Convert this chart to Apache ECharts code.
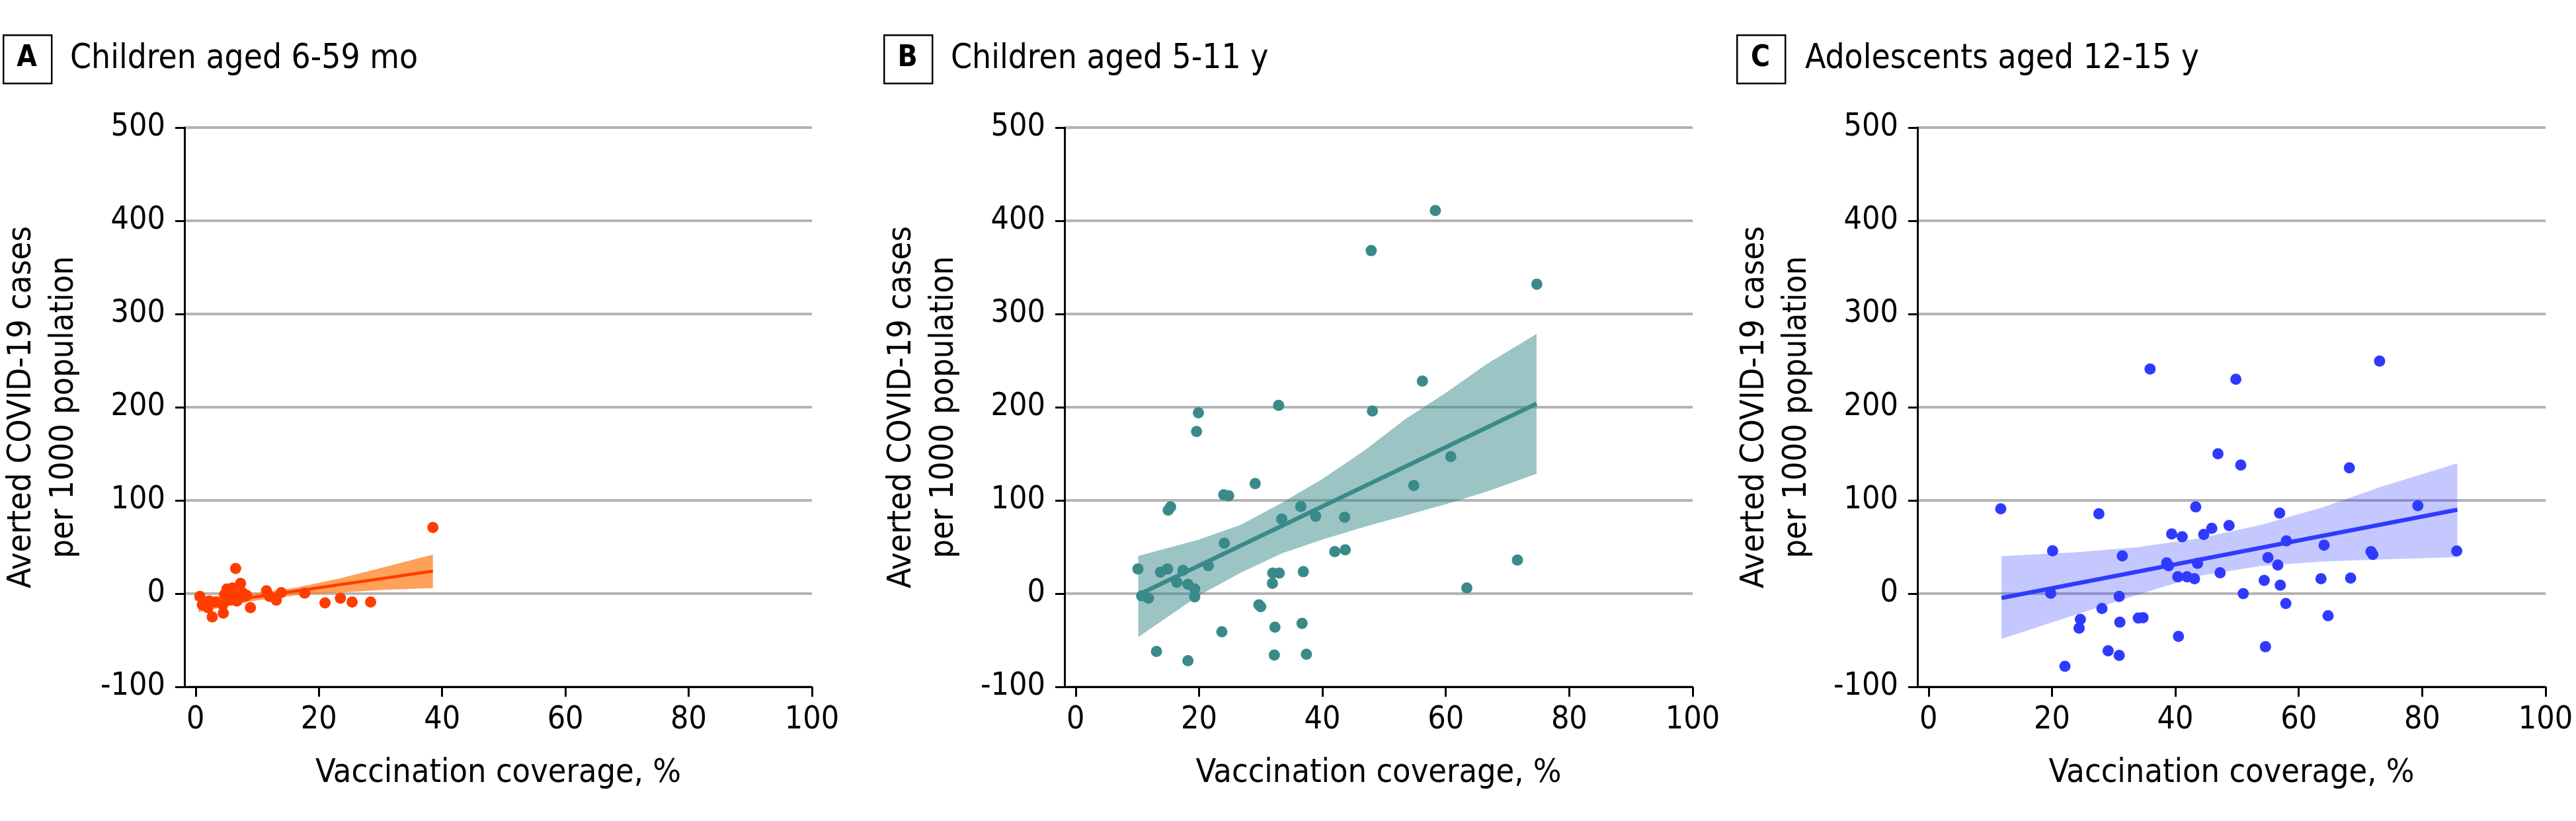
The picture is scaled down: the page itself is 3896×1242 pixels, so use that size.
<!DOCTYPE html>
<html>
<head>
<meta charset="utf-8">
<script src="https://cdn.jsdelivr.net/npm/echarts@6.0.0/dist/echarts.min.js"></script>
<style>
    html, body { margin: 0; padding: 0; background: #fff; }
    #chart { width: 3896px; height: 1242px; }
</style>
</head>
<body>
<div id="chart"></div>
<script>
// panel A - children 6-59 mo
var coverageA = [38.5, 6.5, 7.3, 5.1, 4.7, 6.0, 6.7, 7.9, 7.6, 0.7, 1.1, 2.2, 2.0, 2.7, 4.5, 4.4, 8.9,
    11.5, 12.0, 13.1, 13.9, 17.7, 21.0, 23.5, 25.4, 28.4, 5.3, 6.0, 8.3, 5.6, 3.3];
var avertedA = [71, 27, 11, 5, -1, -2, -8, -3, 1, -3, -12, -8, -15, -25, -21, -12, -15,
    3, -3, -7, 1, 0.5, -10, -5, -9, -9, 2, 6, -2, -7, -9];
var fitXA = [0.5, 38.5];
var fitYA = [-12.4, 24.1];
var bandXA = [0.5, 9.2, 16.3, 23.5, 30.6, 38.5];
var upperA = [-4, 0, 6.4, 16.5, 28.4, 41.8];
var lowerA = [-20, -8, -1.7, 1.2, 4, 5.9];

// panel B - children 5-11 y
var coverageB = [10.1, 10.7, 11.8, 13.1, 13.75, 14.9, 15.0, 15.4, 16.4, 17.4, 18.2, 18.2, 19.3, 19.3,
    19.6, 19.9, 21.5, 23.7, 24.1, 24.0, 24.8, 29.1, 29.7, 30.0, 31.95, 33.0, 31.9, 32.3, 32.2, 32.9,
    33.4, 36.5, 36.9, 36.7, 37.4, 38.9, 47.9, 58.3, 74.75, 56.2, 48.1, 60.8, 54.8, 43.6, 42.0, 43.7,
    71.6, 63.4];
var avertedB = [26.5, -2.5, -5, -62, 23, 26.5, 89.5, 93, 12, 25, 10, -72, 5, -3.5,
    174, 194, 30, -41, 54, 106, 105, 118, -12, -14, 22, 22, 11, -36, -66, 202,
    80, 93.5, 23.5, -32, -65, 83, 368, 411, 332, 228, 196, 147, 116, 82, 45, 47,
    36, 6];
var fitXB = [10.8, 74.7];
var fitYB = [0.8, 203.8];
var bandXB = [10.15, 20, 26.8, 33.4, 40, 46.7, 53.4, 60, 66.7, 74.7];
var upperB = [40.5, 57.9, 74, 97.3, 123, 153, 187, 215.5, 246.7, 278.5];
var lowerB = [-46.7, -2, 22.6, 43, 58, 71.5, 83.7, 96, 109.5, 128.5];

// panel C - adolescents 12-15 y
var coverageC = [11.7, 20.1, 19.8, 27.6, 31.4, 30.9, 28.1, 24.6, 24.4, 31.0, 34.0, 34.75, 29.1, 30.9,
    22.1, 35.9, 40.5, 38.6, 38.9, 40.4, 41.9, 43.1, 43.6, 39.4, 41.1, 43.3, 44.6, 45.9, 46.9, 47.25,
    49.8, 73.1, 50.6, 68.2, 79.3, 56.9, 48.7, 58.0, 64.1, 71.7, 72.0, 85.6, 55.0, 56.6, 54.4, 57.0,
    63.6, 68.4, 51.0, 57.9, 64.75, 54.6];
var avertedC = [91, 46, 0.3, 85.6, 40.5, -3, -16, -27.6, -37, -30.6, -26.3, -25.8, -61.3, -66.3,
    -78, 241, -46, 33, 30, 18, 18, 16, 32.4, 64, 61, 93, 63.5, 70, 150, 22.3,
    230, 249.4, 138, 135, 94.4, 86.3, 73, 56.5, 52, 45, 42, 45.8, 38.7, 30.6, 14.2, 9.1,
    16, 16.7, 0, -10.6, -23.8, -57];
var fitXC = [11.83, 85.7];
var fitYC = [-4.7, 90];
var bandXC = [11.83, 23.9, 33.9, 43.8, 53.8, 63.8, 73.7, 85.7];
var upperC = [40.3, 44.3, 49.8, 59.2, 73.5, 92.4, 115.4, 139.8];
var lowerC = [-48.6, -22.5, -1.2, 19, 29.6, 34.4, 36.7, 39.1];

var letters = ['A', 'B', 'C'];
var titles = ['Children aged 6-59 mo', 'Children aged 5-11 y', 'Adolescents aged 12-15 y'];
var xTicks = [0, 20, 40, 60, 80, 100];

var FONT = "'DejaVu Sans Condensed', 'DejaVu Sans', sans-serif";

function zip(a, b) {
    return a.map(function (v, i) { return [v, b[i]]; });
}

var panels = [
    { cov: coverageA, avt: avertedA, fx: fitXA, fy: fitYA, bx: bandXA, lo: lowerA, hi: upperA,
        dot: '#FF3D00', band: 'rgba(255,125,25,0.72)', lw: 4.5, left: 278, boxX: 4, textX: 106 },
    { cov: coverageB, avt: avertedB, fx: fitXB, fy: fitYB, bx: bandXB, lo: lowerB, hi: upperB,
        dot: '#3A8A8A', band: 'rgba(58,138,138,0.5)', lw: 6.5, left: 1610, boxX: 1336, textX: 1438 },
    { cov: coverageC, avt: avertedC, fx: fitXC, fy: fitYC, bx: bandXC, lo: lowerC, hi: upperC,
        dot: '#2F3AFF', band: 'rgba(47,58,255,0.28)', lw: 6.5, left: 2900, boxX: 2626, textX: 2730 }
];

// one polygon for the whole confidence band, mapped through the axes
function bandRenderer(p) {
    return function (params, api) {
        if (params.dataIndex !== 0) {
            return null;
        }
        var top = [], bottom = [];
        for (var k = 0; k < p.bx.length; k++) {
            top.push(api.coord([p.bx[k], p.hi[k]]));
            bottom.unshift(api.coord([p.bx[k], p.lo[k]]));
        }
        return {
            type: 'polygon',
            shape: { points: top.concat(bottom) },
            style: { fill: p.band }
        };
    };
}

var grids = [], xAxes = [], yAxes = [], series = [], graphics = [];

panels.forEach(function (p, i) {
    grids.push({ left: p.left, top: 193, width: 950, height: 846 });

    xAxes.push({
        gridIndex: i,
        type: 'value',
        min: -1.8,
        max: 100,
        name: 'Vaccination coverage, %',
        nameLocation: 'middle',
        nameGap: 106,
        nameTextStyle: { fontSize: 50, color: '#000', fontFamily: FONT },
        axisLine: { show: true, onZero: false, lineStyle: { color: '#000', width: 3 } },
        axisTick: { show: true, customValues: xTicks, length: 15, lineStyle: { color: '#000', width: 3 } },
        axisLabel: { customValues: xTicks, fontSize: 48, color: '#000', margin: 27, fontFamily: FONT },
        splitLine: { show: false }
    });

    yAxes.push({
        gridIndex: i,
        type: 'value',
        min: -100,
        max: 500,
        interval: 100,
        name: 'Averted COVID-19 cases\nper 1000 population',
        nameLocation: 'middle',
        nameRotate: 90,
        nameGap: 150,
        nameTextStyle: { fontSize: 50, lineHeight: 64, color: '#000', fontFamily: FONT },
        axisLine: { show: true, onZero: false, lineStyle: { color: '#000', width: 3 } },
        axisTick: { show: true, length: 14, lineStyle: { color: '#000', width: 3 } },
        axisLabel: { fontSize: 48, color: '#000', margin: 29, fontFamily: FONT },
        splitLine: { show: true, lineStyle: { color: '#B3B3B3', width: 4 } }
    });

    series.push({
        type: 'custom', xAxisIndex: i, yAxisIndex: i, silent: true,
        data: zip(p.bx, p.hi),
        renderItem: bandRenderer(p)
    });
    series.push({
        type: 'line', xAxisIndex: i, yAxisIndex: i,
        data: zip(p.fx, p.fy), symbol: 'none', silent: true,
        lineStyle: { color: p.dot, width: p.lw, cap: 'butt' }
    });
    series.push({
        type: 'scatter', xAxisIndex: i, yAxisIndex: i,
        data: zip(p.cov, p.avt), symbolSize: 17,
        itemStyle: { color: p.dot, opacity: 1 }
    });

    // panel letter box + title
    graphics.push({
        type: 'rect', left: p.boxX, top: 52,
        shape: { width: 73, height: 73 },
        style: { fill: '#fff', stroke: '#000', lineWidth: 2.5 }
    });
    graphics.push({
        type: 'text', x: p.boxX + 36.5, y: 89,
        style: { text: letters[i], fontSize: 44, fontWeight: 'bold', fontFamily: FONT,
            fill: '#000', align: 'center', verticalAlign: 'middle' }
    });
    graphics.push({
        type: 'text', x: p.textX, y: 90,
        style: { text: titles[i], fontSize: 51, fontFamily: FONT,
            fill: '#000', align: 'left', verticalAlign: 'middle' }
    });
});

var myChart = echarts.init(document.getElementById('chart'), null, { renderer: 'canvas' });
myChart.setOption({
    backgroundColor: '#fff',
    animation: false,
    textStyle: { fontFamily: FONT },
    grid: grids,
    xAxis: xAxes,
    yAxis: yAxes,
    series: series,
    graphic: graphics
});
</script>
</body>
</html>
